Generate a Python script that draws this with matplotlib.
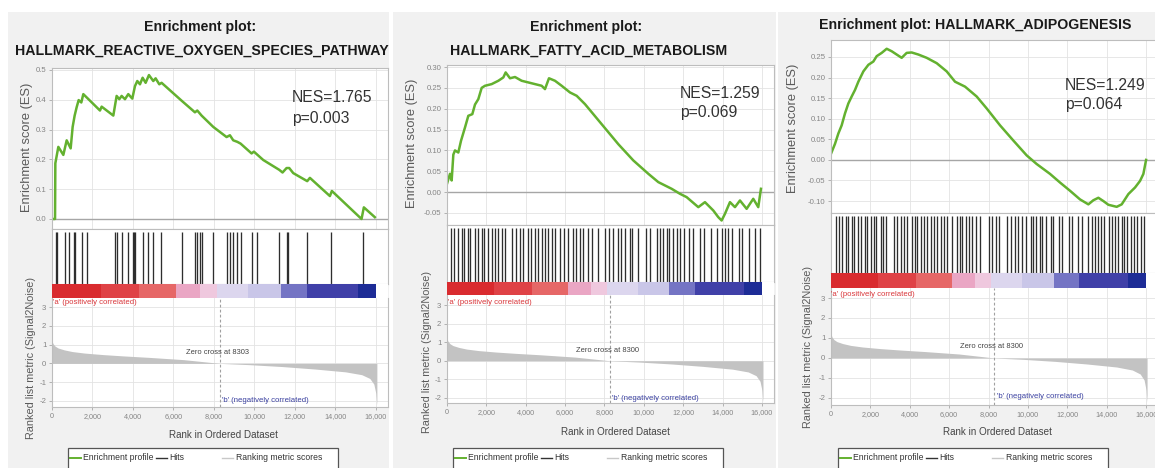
import matplotlib
matplotlib.use("Agg")
import matplotlib.pyplot as plt
from matplotlib import font_manager
from matplotlib.patches import Rectangle
from matplotlib.lines import Line2D
from matplotlib.ticker import FuncFormatter, FixedLocator

# ---------------------------------------------------------------- data
title_lines = [
    ["Enrichment plot:", "HALLMARK_REACTIVE_OXYGEN_SPECIES_PATHWAY"],
    ["Enrichment plot:", "HALLMARK_FATTY_ACID_METABOLISM"],
    ["Enrichment plot: HALLMARK_ADIPOGENESIS"],
]
nes_values = [1.765, 1.259, 1.249]
p_values = [0.003, 0.069, 0.064]
zero_cross = [8303, 8300, 8300]

# running enrichment score (rank, ES)
es1_rank = [0, 150, 165, 313, 560, 725, 922, 1020, 1119, 1218, 1317, 1448, 1547,
            1877, 2370, 2453, 3029, 3193, 3325, 3440, 3605, 3769, 3967, 4099,
            4214, 4346, 4477, 4626, 4790, 5004, 5119, 5300, 5415, 6403, 7062,
            7177, 7391, 7967, 8625, 8790, 8954, 9152, 9317, 9860, 9975, 10436,
            11226, 11390, 11589, 11720, 11918, 12609, 12741, 13729, 13827,
            15292, 15407, 15950]
es1_score = [0.0, 0.0, 0.187, 0.242, 0.215, 0.264, 0.237, 0.309, 0.347, 0.375,
             0.399, 0.391, 0.419, 0.397, 0.364, 0.377, 0.347, 0.413, 0.402,
             0.413, 0.402, 0.419, 0.404, 0.446, 0.463, 0.452, 0.474, 0.457,
             0.483, 0.463, 0.472, 0.452, 0.457, 0.397, 0.358, 0.364, 0.347,
             0.309, 0.275, 0.281, 0.264, 0.259, 0.253, 0.220, 0.226, 0.198,
             0.165, 0.156, 0.171, 0.171, 0.154, 0.127, 0.138, 0.077, 0.094,
             0.0, 0.039, 0.006]

es2_rank = [0, 152, 237, 322, 406, 575, 711, 914, 1083, 1286, 1422, 1591, 1761,
            1930, 2269, 2608, 2861, 2980, 3200, 3454, 3792, 4131, 4469, 4808,
            4977, 5180, 5485, 5824, 6247, 6586, 7009, 7855, 8702, 9464, 10226,
            10734, 11411, 11834, 12173, 12765, 13103, 13526, 13780, 13950,
            14119, 14373, 14627, 14881, 15220, 15557, 15811, 15947]
es2_score = [0.02, 0.044, 0.028, 0.09, 0.10, 0.095, 0.123, 0.155, 0.183, 0.187,
             0.21, 0.223, 0.25, 0.255, 0.259, 0.267, 0.275, 0.287, 0.273, 0.276,
             0.267, 0.263, 0.259, 0.255, 0.247, 0.273, 0.267, 0.255, 0.239,
             0.231, 0.211, 0.163, 0.115, 0.076, 0.044, 0.024, 0.008, -0.004,
             -0.012, -0.036, -0.024, -0.044, -0.06, -0.068, -0.052, -0.024,
             -0.036, -0.02, -0.04, -0.016, -0.036, 0.008]

es3_rank = [0, 203, 372, 542, 711, 880, 1050, 1219, 1389, 1643, 1897, 2150,
            2320, 2574, 2828, 3081, 3335, 3589, 3843, 4097, 4436, 4859, 5367,
            5875, 6298, 6806, 7398, 7906, 8583, 9260, 9936, 10444, 11122,
            11630, 12138, 12646, 13069, 13323, 13577, 13831, 14085, 14508,
            14762, 15101, 15440, 15694, 15863, 16000]
es3_score = [0.015, 0.039, 0.064, 0.084, 0.113, 0.137, 0.154, 0.17, 0.19,
             0.215, 0.231, 0.239, 0.252, 0.26, 0.27, 0.264, 0.256, 0.248, 0.26,
             0.261, 0.256, 0.248, 0.235, 0.215, 0.19, 0.178, 0.154, 0.125,
             0.084, 0.047, 0.011, -0.01, -0.034, -0.055, -0.075, -0.096,
             -0.108, -0.098, -0.092, -0.1, -0.109, -0.114, -0.108, -0.083,
             -0.067, -0.051, -0.034, 0.0]

# positions of gene-set members in the ranked list
hits1 = [198, 262, 642, 854, 1086, 1151, 1467, 1743, 3111, 3195, 3472, 3768,
         4015, 4064, 4099, 4479, 4756, 5002, 5368, 6405, 7062, 7146, 7309,
         7393, 7965, 8627, 8790, 8953, 9121, 9318, 9862, 10138, 11225, 11590,
         11669, 12607, 13778, 15343]
hits2 = [203, 372, 576, 745, 880, 1050, 1168, 1422, 1591, 1761, 1896, 2099,
         2302, 2438, 2607, 2810, 2946, 3284, 3487, 3707, 3877, 4097, 4266,
         4469, 4639, 4808, 4977, 5146, 5316, 5485, 5739, 5959, 6128, 6416,
         6535, 6755, 6924, 7144, 7347, 7652, 8024, 8228, 8448, 8668, 8837,
         9040, 9294, 9413, 9684, 10090, 10310, 10649, 10818, 10987, 11157,
         11275, 11495, 11665, 11834, 12054, 12291, 12511, 12849, 13069, 13408,
         13696, 13950, 14119, 14288, 14491, 14830, 14999, 15338, 15643, 15897]
hits3 = [271, 406, 576, 745, 880, 1050, 1168, 1388, 1507, 1727, 1845, 2015,
         2184, 2302, 2522, 2641, 2810, 3200, 3369, 3538, 3708, 3877, 4097,
         4266, 4385, 4554, 4723, 4893, 5062, 5231, 5400, 5570, 5739, 5908,
         6128, 6416, 6535, 6670, 6873, 7009, 7178, 7347, 7550, 8024, 8194,
         8363, 8532, 8956, 9125, 9345, 9514, 9717, 9887, 10141, 10259, 10429,
         10598, 10733, 10902, 11156, 11275, 11580, 11749, 12088, 12223, 12561,
         12765, 13069, 13273, 13408, 13577, 13696, 13865, 14119, 14254, 14424,
         14593, 14762, 14881, 15050, 15220, 15389, 15558, 15728, 15897]

# ranked list metric (Signal2Noise) along the ordered dataset
metric_rank = [0, 50, 150, 300, 600, 1000, 1600, 2500, 3500, 4800, 6500, 8303,
               9800, 11400, 13000, 14500, 15300, 15700, 15900, 16000, 16050]
metric_value = [1.2, 1.05, 0.92, 0.82, 0.72, 0.63, 0.55, 0.47, 0.4, 0.32, 0.2,
                0.0, -0.07, -0.17, -0.3, -0.45, -0.6, -0.8, -1.1, -1.6, -2.2]

# heat bar blocks along the ranked list
band_edges = [0, 2400, 4300, 6150, 7300, 8150, 9700, 11300, 12600, 15100, 16000]
band_colors = ["#d92b2f", "#df4246", "#e66767", "#eaa6c4", "#efc8de",
               "#dcd6ee", "#c9c6e8", "#7474c4", "#4040a8", "#1d2c96"]

x_ticks = [0, 2000, 4000, 6000, 8000, 10000, 12000, 14000, 16000]
es_ticks = [
    [0.0, 0.1, 0.2, 0.3, 0.4, 0.5],
    [-0.05, 0.0, 0.05, 0.10, 0.15, 0.20, 0.25, 0.30],
    [-0.10, -0.05, 0.0, 0.05, 0.10, 0.15, 0.20, 0.25],
]
metric_ticks = [-2, -1, 0, 1, 2, 3]

es_ranks = [es1_rank, es2_rank, es3_rank]
es_scores = [es1_score, es2_score, es3_score]
hit_sets = [hits1, hits2, hits3]

# ---------------------------------------------------------------- layout (pixels)
W, H = 1155, 468
panels = [
    dict(x0=52, x1=388, es=(68, 229), es_lim=(-0.0336, 0.5067), es_fmt="%.1f",
         hits=(229, 284), bar=(284, 298), met=(298, 407), met_lim=(-2.32, 3.48),
         bg=(8, 12, 389, 468), title_y=[27, 51], title_x=[200, 202],
         nes=(292, 98, 118), es_lab=(27, 147), met_lab=(31, 358), xlab=(223, 435),
         a_txt=(53, 303), z_txt=(217, 352), b_txt=(222, 400), leg=68),
    dict(x0=447, x1=773.8, es=(65, 225), es_lim=(-0.0788, 0.3048), es_fmt="%.2f",
         hits=(225, 282), bar=(282, 295), met=(295, 403), met_lim=(-2.27, 3.54),
         bg=(393, 12, 776, 468), title_y=[27, 51], title_x=[586, 589],
         nes=(680, 94, 113), es_lab=(412, 143), met_lab=(427, 352), xlab=(615, 432),
         a_txt=(448, 302), z_txt=(608, 350), b_txt=(612, 398), leg=453),
    dict(x0=831, x1=1157.9, es=(40, 213), es_lim=(-0.129, 0.2913), es_fmt="%.2f",
         hits=(213, 273), bar=(273, 288), met=(288, 405), met_lim=(-2.35, 3.5),
         bg=(778, 12, 1155, 468), title_y=[25], title_x=[975],
         nes=(1065, 85, 105), es_lab=(793, 128), met_lab=(808, 347), xlab=(997, 432),
         a_txt=(831, 294), z_txt=(992, 347), b_txt=(997, 397), leg=838),
]
X_MAX = 16600

font_names = {f.name for f in font_manager.fontManager.ttflist}
if "Liberation Sans Narrow" in font_names:
    TITLE_FONT, TITLE_SIZE = "Liberation Sans Narrow", 12.4
else:
    TITLE_FONT, TITLE_SIZE = "Liberation Sans", 10.2
plt.rcParams["font.family"] = ["Liberation Sans", "DejaVu Sans"]

GREEN = "#63b12f"
TICK_GREY = "#858585"
GRID = "#e3e3e3"
SPINE = "#bdbdbd"

fig = plt.figure(figsize=(W / 100, H / 100), dpi=100)
fig.patch.set_facecolor("white")


def px_axes(x0, y0, x1, y1):
    return fig.add_axes([x0 / W, 1 - y1 / H, (x1 - x0) / W, (y1 - y0) / H])


def px_text(x, y, s, **kw):
    return fig.text(x / W, 1 - y / H, s, **kw)


def style_axes(ax):
    for sp in ax.spines.values():
        sp.set_color(SPINE)
        sp.set_linewidth(0.8)
    ax.tick_params(colors="#a8a8a8", labelcolor=TICK_GREY, length=2.5,
                   width=0.6, labelsize=5.6, pad=1.5)
    ax.grid(True, color=GRID, lw=0.6)
    ax.set_axisbelow(True)


for i, P in enumerate(panels):
    bx0, by0, bx1, by1 = P["bg"]
    fig.patches.append(Rectangle((bx0 / W, 1 - by1 / H), (bx1 - bx0) / W,
                                 (by1 - by0) / H, transform=fig.transFigure,
                                 facecolor="#f1f1f1", edgecolor="none", zorder=-10))

    # titles
    for line, tx, ty in zip(title_lines[i], P["title_x"], P["title_y"]):
        px_text(tx, ty, line, ha="center", va="center", family=TITLE_FONT,
                fontsize=TITLE_SIZE, fontweight="bold", color="#1a1a1a")

    # enrichment score panel
    ax = px_axes(P["x0"], P["es"][0], P["x1"], P["es"][1])
    style_axes(ax)
    ax.plot(es_ranks[i], es_scores[i], color=GREEN, lw=1.8, solid_joinstyle="round")
    ax.axhline(0, color="#a6a6a6", lw=1.0, zorder=1)
    ax.set_xlim(0, X_MAX)
    ax.set_ylim(*P["es_lim"])
    ax.xaxis.set_major_locator(FixedLocator(x_ticks))
    ax.yaxis.set_major_locator(FixedLocator(es_ticks[i]))
    ax.yaxis.set_major_formatter(FuncFormatter(lambda v, p, f=P["es_fmt"]: f % v))
    ax.tick_params(axis="x", length=0, labelbottom=False)

    xt = P["nes"][0]
    px_text(xt, P["nes"][1], f"NES={nes_values[i]:.3f}", ha="left", va="center",
            fontsize=11.3, color="#333333")
    px_text(xt, P["nes"][2], f"p={p_values[i]:.3f}", ha="left", va="center",
            fontsize=11.3, color="#333333")
    px_text(*P["es_lab"], "Enrichment score (ES)", rotation=90, ha="center",
            va="center", fontsize=9.3, color="#5a5a5a")

    # hits panel
    axh = px_axes(P["x0"], P["hits"][0], P["x1"], P["hits"][1])
    axh.set_facecolor("white")
    axh.vlines(hit_sets[i], 0, 0.95, color="#2e2e2e", lw=0.95)
    axh.set_xlim(0, X_MAX)
    axh.set_ylim(0, 1)
    axh.set_xticks([])
    axh.set_yticks([])
    for sp in axh.spines.values():
        sp.set_color(SPINE)
        sp.set_linewidth(0.8)

    # heat bar
    axb = px_axes(P["x0"], P["bar"][0], P["x1"], P["bar"][1])
    axb.set_facecolor("white")
    for j, c in enumerate(band_colors):
        axb.barh(0.5, band_edges[j + 1] - band_edges[j], left=band_edges[j],
                 height=1.0, color=c, lw=0)
    axb.set_xlim(0, X_MAX)
    axb.set_ylim(0, 1)
    axb.set_xticks([])
    axb.set_yticks([])
    for sp in axb.spines.values():
        sp.set_visible(False)

    # ranked list metric panel
    axm = px_axes(P["x0"], P["met"][0], P["x1"], P["met"][1])
    style_axes(axm)
    axm.spines["top"].set_visible(False)
    axm.fill_between(metric_rank, metric_value, 0, color="#c3c3c3", lw=0)
    axm.axvline(zero_cross[i], color="#a0a0a0", lw=0.8, ls=(0, (2.5, 2)))
    axm.set_xlim(0, X_MAX)
    axm.set_ylim(*P["met_lim"])
    axm.xaxis.set_major_locator(FixedLocator(x_ticks))
    axm.xaxis.set_major_formatter(FuncFormatter(lambda v, p: f"{int(v):,}"))
    axm.yaxis.set_major_locator(FixedLocator(metric_ticks))
    axm.yaxis.set_major_formatter(FuncFormatter(lambda v, p: f"{int(v)}"))
    axm.tick_params(axis="x", labelsize=5.2)

    px_text(*P["a_txt"], "'a' (positively correlated)", ha="left", va="center",
            fontsize=5.6, color="#d9363a")
    px_text(*P["z_txt"], f"Zero cross at {zero_cross[i]}", ha="center",
            va="center", fontsize=5.4, color="#444444")
    px_text(*P["b_txt"], "'b' (negatively correlated)", ha="left", va="center",
            fontsize=5.6, color="#3a40a0")
    px_text(*P["met_lab"], "Ranked list metric (Signal2Noise)", rotation=90,
            ha="center", va="center", fontsize=7.8, color="#5a5a5a")
    px_text(*P["xlab"], "Rank in Ordered Dataset", ha="center", va="center",
            fontsize=7.1, color="#444444")

    # legend box
    lx = P["leg"]
    fig.patches.append(Rectangle((lx / W, 1 - 472 / H), 270 / W, 24 / H,
                                 transform=fig.transFigure, facecolor="white",
                                 edgecolor="#555555", lw=0.9, zorder=5))
    ly = 1 - 458 / H
    for (a, b, col, lw) in [(2, 13, GREEN, 1.4), (88, 99, "#333333", 1.0),
                            (154, 165, "#c8c8c8", 1.0)]:
        fig.lines.append(Line2D([(lx + a) / W, (lx + b) / W], [ly, ly],
                                transform=fig.transFigure, color=col, lw=lw,
                                zorder=6))
    for (a, s) in [(15, "Enrichment profile"), (101, "Hits"),
                   (168, "Ranking metric scores")]:
        t = px_text(lx + a, 458, s, ha="left", va="center", fontsize=6.2,
                    color="#333333")
        t.set_zorder(7)

fig.savefig("out.png", dpi=100)
